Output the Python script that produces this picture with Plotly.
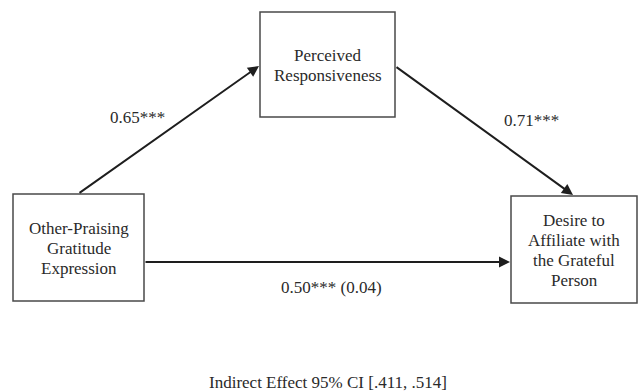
import plotly.graph_objects as go

# Mediation model: nodes, paths and coefficients
node_names = ["Other-Praising<br>Gratitude<br>Expression",
              "Perceived<br>Responsiveness",
              "Desire to<br>Affiliate with<br>the Grateful<br>Person"]
path_from = [0, 1, 0]
path_to = [1, 2, 2]
path_labels = ["0.65***", "0.71***", "0.50*** (0.04)"]
footnote = "Indirect Effect 95% CI [.411, .514]"

# Layout geometry (pixel-like coordinates, y grows downward)
W, H = 640, 391
boxes = [(13, 194, 144, 301),   # x0, y0, x1, y1
         (260, 12, 395, 117),
         (511, 196, 637, 303)]
anchors = {  # (from, to): start point, end point
    (0, 1): ((78, 194), (259, 66)),
    (1, 2): ((395, 66), (573, 195)),
    (0, 2): ((144, 262), (510, 262)),
}
label_pos = [(137, 117), (531, 120), (331, 287)]
footnote_pos = (328, 382)
line_gap = 20

FONT = "Liberation Serif, Times New Roman, serif"
TEXT_COLOR = "#2a2a2a"
FS = 17

fig = go.Figure()
fig.add_trace(go.Scatter(x=[0, W], y=[0, H], mode="markers",
                         marker=dict(opacity=0), hoverinfo="skip",
                         showlegend=False))

shapes = []
annotations = []

# Boxes with centred, evenly spaced lines of text
for name, (x0, y0, x1, y1) in zip(node_names, boxes):
    shapes.append(dict(type="rect", xref="x", yref="y", x0=x0, y0=y0,
                       x1=x1, y1=y1, line=dict(color="#4a4a4a", width=1.5),
                       fillcolor="white", layer="above"))
    lines = name.split("<br>")
    cx, cy = (x0 + x1) / 2, (y0 + y1) / 2 + 1
    start = cy - line_gap * (len(lines) - 1) / 2
    for i, ln in enumerate(lines):
        annotations.append(dict(x=cx, y=start + i * line_gap, xref="x",
                                yref="y", text=ln, showarrow=False,
                                font=dict(family=FONT, size=FS,
                                          color=TEXT_COLOR),
                                xanchor="center", yanchor="middle"))

# Arrows between nodes
for a, b in zip(path_from, path_to):
    (sx, sy), (ex, ey) = anchors[(a, b)]
    annotations.append(dict(x=ex, y=ey, ax=sx, ay=sy, xref="x", yref="y",
                            axref="x", ayref="y", text="", showarrow=True,
                            arrowhead=2, arrowsize=1.1, arrowwidth=2,
                            arrowcolor="#1e1e1e", standoff=0))

# Path coefficients
for lbl, (lx, ly) in zip(path_labels, label_pos):
    annotations.append(dict(x=lx, y=ly, xref="x", yref="y", text=lbl,
                            showarrow=False,
                            font=dict(family=FONT, size=FS, color=TEXT_COLOR),
                            xanchor="center", yanchor="middle"))

annotations.append(dict(x=footnote_pos[0], y=footnote_pos[1], xref="x",
                        yref="y", text=footnote, showarrow=False,
                        font=dict(family=FONT, size=FS, color=TEXT_COLOR),
                        xanchor="center", yanchor="middle"))

fig.update_layout(
    width=W, height=H,
    margin=dict(l=0, r=0, t=0, b=0),
    paper_bgcolor="white", plot_bgcolor="white",
    xaxis=dict(range=[0, W], visible=False, fixedrange=True),
    yaxis=dict(range=[H, 0], visible=False, fixedrange=True),
    shapes=shapes, annotations=annotations,
    showlegend=False,
)

fig.write_html("out.html")
